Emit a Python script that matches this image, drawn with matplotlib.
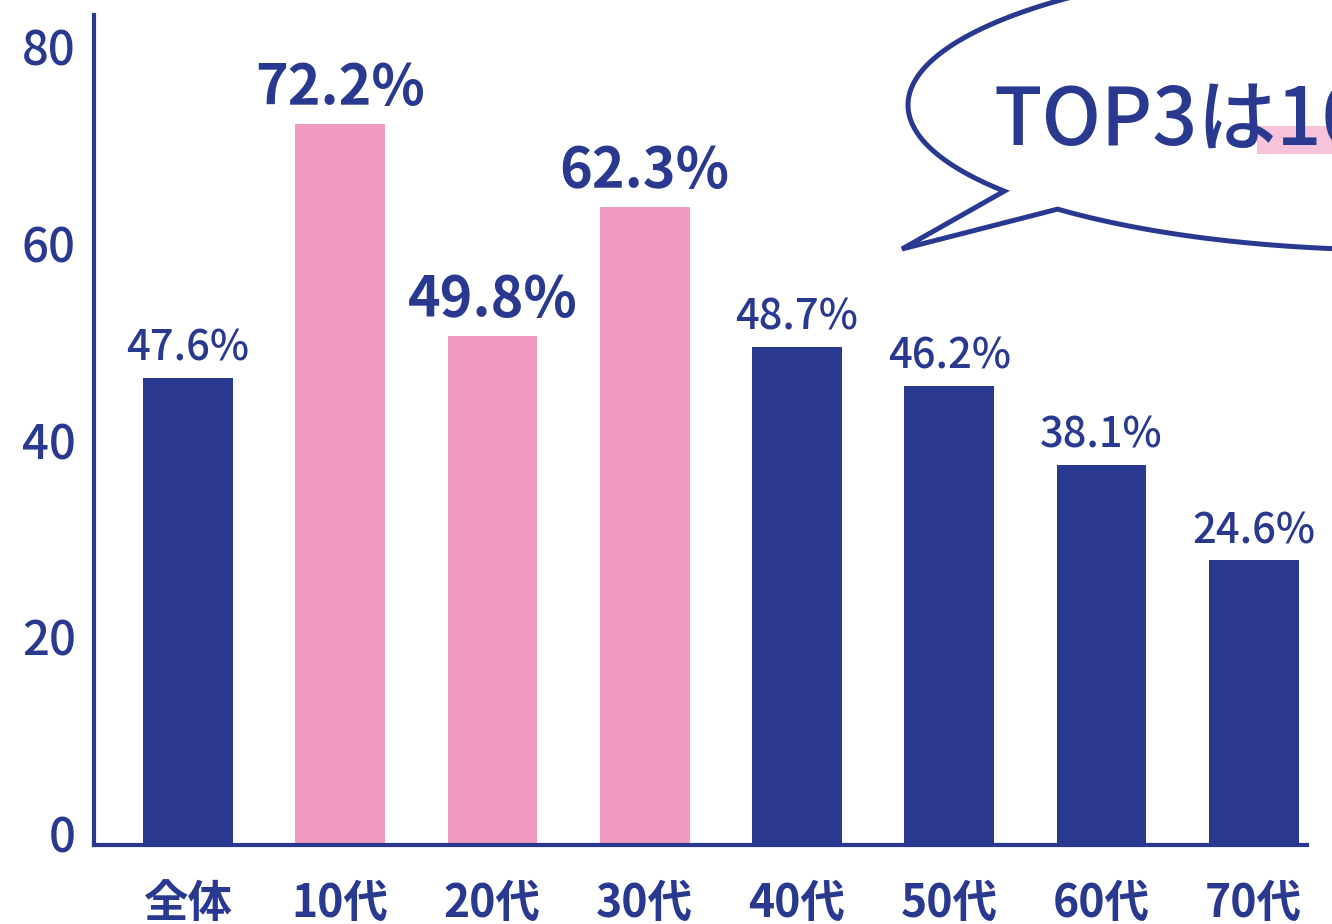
import matplotlib.pyplot as plt
import matplotlib.transforms as mtransforms
from matplotlib.path import Path
from matplotlib.patches import PathPatch, Rectangle
import numpy as np

plt.rcParams['font.family'] = ['Noto Sans CJK JP', 'DejaVu Sans']

# data (bar heights as drawn, labels as printed)
categories = ['全体', '10代', '20代', '30代', '40代', '50代', '60代', '70代']
bar_heights = [47.4, 73.2, 51.7, 64.8, 50.6, 46.6, 38.6, 28.9]
value_labels = ['47.6%', '72.2%', '49.8%', '62.3%', '48.7%', '46.2%', '38.1%', '24.6%']
highlight = [False, True, True, True, False, False, False, False]
y_ticks = [0, 20, 40, 60, 80]

NAVY = '#29398f'
PINK = '#f39ac3'
LIGHT_PINK = '#f7c3da'

W, H = 1332, 924
fig = plt.figure(figsize=(W / 100, H / 100), dpi=100)
ax = fig.add_axes([94 / W, 1 - 845 / H, (1307 - 94) / W, (845 - 15) / H])

x = np.arange(len(categories))
colors = [PINK if h else NAVY for h in highlight]
ax.bar(x, bar_heights, width=0.59, color=colors, zorder=2)

for xi, hgt, lab, hl in zip(x, bar_heights, value_labels, highlight):
    ax.annotate(lab, (xi, hgt), xytext=(0, 6), textcoords='offset points',
                ha='center', va='bottom', color=NAVY,
                fontsize=40 if hl else 30, fontweight='bold' if hl else 'medium')

ax.set_xlim(-0.617, 7.35)
ax.set_ylim(0, 84.3)
ax.set_yticks(y_ticks)
ax.set_yticklabels([str(v) for v in y_ticks])
ax.set_xticks(x)
ax.set_xticklabels(categories)
ax.tick_params(axis='y', length=0, pad=13, labelsize=34, labelcolor=NAVY)
ax.tick_params(axis='x', length=0, pad=26, labelsize=32, labelcolor=NAVY)
for lbl in ax.get_yticklabels():
    lbl.set_fontweight('medium')
    lbl.set_transform(lbl.get_transform() + mtransforms.ScaledTranslation(0, 8 / 72, fig.dpi_scale_trans))
for lbl in ax.get_xticklabels():
    lbl.set_fontweight('bold')

for side in ['top', 'right']:
    ax.spines[side].set_visible(False)
for side in ['left', 'bottom']:
    ax.spines[side].set_color(NAVY)
    ax.spines[side].set_linewidth(3)

# speech bubble (image pixel coordinates, y down)
cx, cy, a, b = 1400, 105, 492, 145
t1 = np.arctan2((191 - cy) / b, (1005 - cx) / a)
t2 = np.arctan2((209 - cy) / b, (1058 - cx) / a) + 2 * np.pi
t = np.linspace(t1, t2, 300)
px = list(cx + a * np.cos(t)) + [902, cx + a * np.cos(t1)]
py = list(cy + b * np.sin(t)) + [249, cy + b * np.sin(t1)]
verts = [(u / W, 1 - v / H) for u, v in zip(px, py)]
codes = [Path.MOVETO] + [Path.LINETO] * (len(verts) - 2) + [Path.CLOSEPOLY]
bubble = PathPatch(Path(verts, codes), facecolor='white', edgecolor=NAVY,
                   linewidth=3.6, joinstyle='miter', transform=fig.transFigure, zorder=5)
fig.patches.append(bubble)

fig.patches.append(Rectangle((1257 / W, 1 - 154 / H), 100 / W, 28 / H,
                             facecolor=LIGHT_PINK, edgecolor='none',
                             transform=fig.transFigure, zorder=6))
fig.text(993 / W, 1 - 145 / H, 'TOP3は10代～30代', color=NAVY, fontsize=57,
         fontweight='medium', ha='left', va='baseline', zorder=7)

fig.savefig('out.png', dpi=100)
